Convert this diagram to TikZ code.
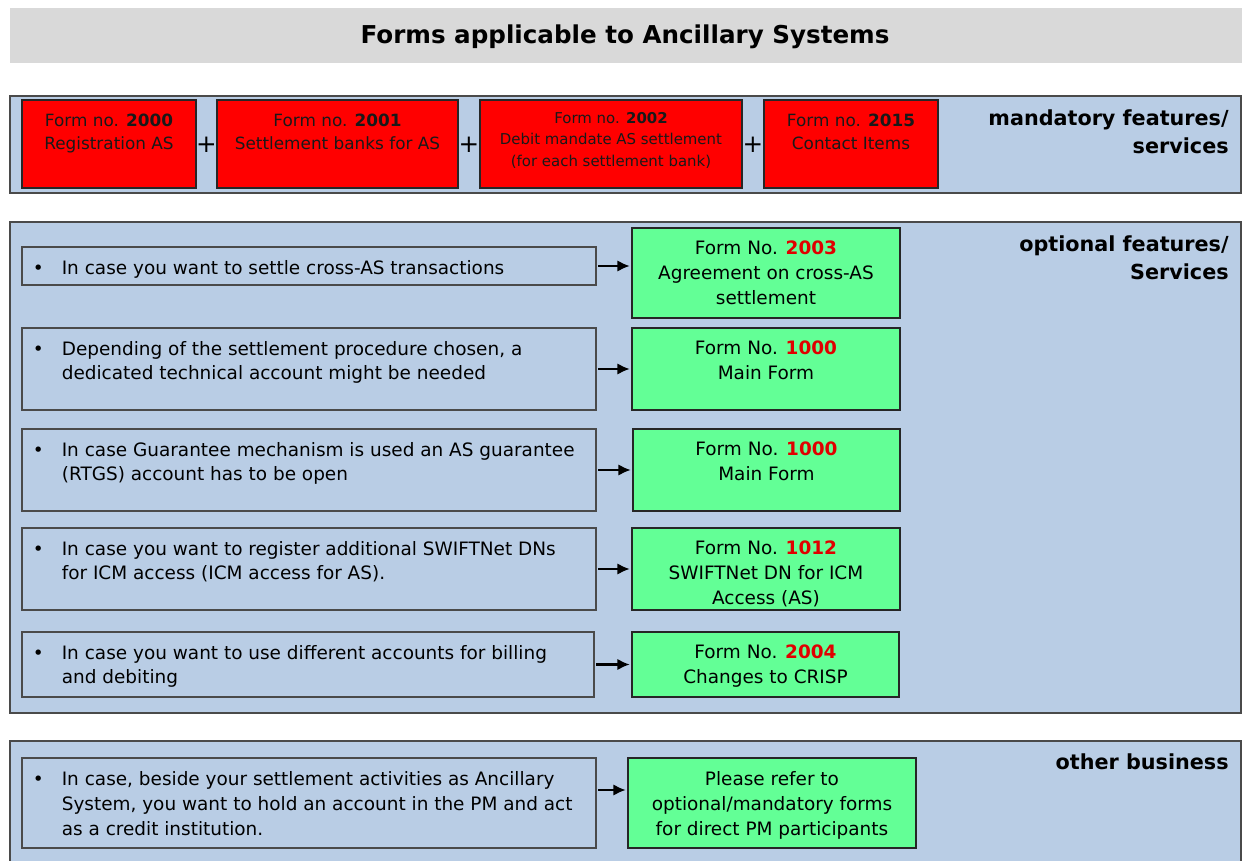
\documentclass[tikz,border=0pt]{standalone}
\usepackage{fontspec}
\setmainfont{DejaVu Sans}
\usepackage{xcolor}
\usepackage{tikz}
\usetikzlibrary{shapes,arrows,arrows.meta,positioning,fit,backgrounds}

\definecolor{panelblue}{HTML}{B9CDE5}
\definecolor{formred}{HTML}{FF0000}
\definecolor{formgreen}{HTML}{63FF96}
\definecolor{titlegray}{HTML}{D9D9D9}
\definecolor{edgegray}{HTML}{4A4A4A}
\definecolor{numred}{HTML}{E00000}

\newcommand{\formnum}[1]{\textbf{\color{numred}#1}}
\newcommand{\itemmark}{\makebox[0.58cm][l]{\textbullet}}
\newcommand{\itemskip}{\hspace*{0.58cm}}

\tikzset{
  titlebar/.style={fill=titlegray, inner sep=0pt},
  titletext/.style={inner sep=0pt, font=\fontsize{14}{17}\selectfont\bfseries},
  panel/.style={draw=edgegray, fill=panelblue, line width=1pt, inner sep=0pt},
  redform/.style={draw=black!85, fill=formred, line width=0.6pt, inner sep=0pt},
  greenform/.style={draw=black!85, fill=formgreen, line width=0.6pt, inner sep=0pt},
  casebox/.style={draw=edgegray, fill=panelblue, line width=0.6pt, inner sep=0pt},
  redtext/.style={align=center, inner sep=0pt, text=black!90, font=\fontsize{9.6}{13}\selectfont},
  formtext/.style={align=center, inner sep=0pt, font=\fontsize{10.5}{14.2}\selectfont},
  casetext/.style={align=left, inner sep=0pt, font=\fontsize{10.5}{14.2}\selectfont},
  heading/.style={align=right, anchor=north east, inner sep=0pt, font=\fontsize{11.8}{16.2}\selectfont\bfseries},
  plus/.style={inner sep=0pt, font=\fontsize{14}{14}\selectfont},
  arr/.style={-{Latex[length=7pt,width=6.5pt]}, line width=1.2pt, shorten <=1pt, shorten >=1pt}
}

\begin{document}
\begin{tikzpicture}[x=0.02cm,y=-0.02cm]
        \useasboundingbox (0,0) rectangle (1242,861);

        % Title
        \node[titlebar, fit={(10,8) (1242,63)}] (title) {};
        \node[titletext] (titlet) at (625,37) {Forms applicable to Ancillary Systems};

        % Mandatory features
        \node[panel, fit={(10,96) (1241,193)}] (mandatory) {};
        \node[redform, fit={(22,100) (196,188)}] (f2000) {};
        \node[redform, fit={(217,100) (458,188)}] (f2001) {};
        \node[redform, fit={(480,100) (742,188)}] (f2002) {};
        \node[redform, fit={(764,100) (938,188)}] (f2015) {};
        \node[redtext, below=8pt of f2000.north] (f2000t) {Form no. \textbf{2000}\\Registration AS};
        \node[redtext, below=8pt of f2001.north] (f2001t) {Form no. \textbf{2001}\\Settlement banks for AS};
        \node[redtext, font=\fontsize{8.5}{12.2}\selectfont, below=7pt of f2002.north] (f2002t) {Form no. \textbf{2002}\\Debit mandate AS settlement\\(for each settlement bank)};
        \node[redtext, below=8pt of f2015.north] (f2015t) {Form no. \textbf{2015}\\Contact Items};
        \node[plus] (plus1) at (206.5,145) {+};
        \node[plus] (plus2) at (469,145) {+};
        \node[plus] (plus3) at (753,145) {+};
        \node[heading] (mandhead) at (1229,109) {mandatory features/\\services};

        % Optional features
        \node[panel, fit={(10,222) (1241,713)}] (optional) {};
        \node[heading] (opthead) at (1229,235) {optional features/\\Services};

        \node[casebox, fit={(22,247) (596,285)}] (c1) {};
        \node[casebox, fit={(22,328) (596,410)}] (c2) {};
        \node[casebox, fit={(22,429) (596,511)}] (c3) {};
        \node[casebox, fit={(22,528) (596,610)}] (c4) {};
        \node[casebox, fit={(22,632) (594,697)}] (c5) {};

        \node[greenform, fit={(632,228) (900,318)}] (g1) {};
        \node[greenform, fit={(632,328) (900,410)}] (g2) {};
        \node[greenform, fit={(633,429) (900,511)}] (g3) {};
        \node[greenform, fit={(632,528) (900,610)}] (g4) {};
        \node[greenform, fit={(632,632) (899,697)}] (g5) {};

        \node[casetext, below right=7.5pt and 0.22cm of c1.north west] (c1t) {\itemmark In case you want to settle cross-AS transactions};
        \node[casetext, below right=7.5pt and 0.22cm of c2.north west] (c2t) {\itemmark Depending of the settlement procedure chosen, a\\\itemskip dedicated technical account might be needed};
        \node[casetext, below right=7.5pt and 0.22cm of c3.north west] (c3t) {\itemmark In case Guarantee mechanism is used an AS guarantee\\\itemskip (RTGS) account has to be open};
        \node[casetext, below right=7.5pt and 0.22cm of c4.north west] (c4t) {\itemmark In case you want to register additional SWIFTNet DNs\\\itemskip for ICM access (ICM access for AS).};
        \node[casetext, below right=7.5pt and 0.22cm of c5.north west] (c5t) {\itemmark In case you want to use different accounts for billing\\\itemskip and debiting};

        \node[formtext, below=7.5pt of g1.north] (g1t) {Form No. \formnum{2003}\\Agreement on cross-AS\\settlement};
        \node[formtext, below=7.5pt of g2.north] (g2t) {Form No. \formnum{1000}\\Main Form};
        \node[formtext, below=7.5pt of g3.north] (g3t) {Form No. \formnum{1000}\\Main Form};
        \node[formtext, below=7.5pt of g4.north] (g4t) {Form No. \formnum{1012}\\SWIFTNet DN for ICM\\Access (AS)};
        \node[formtext, below=7.5pt of g5.north] (g5t) {Form No. \formnum{2004}\\Changes to CRISP};

        \foreach \i in {1,...,5}
          \draw[arr] (c\i.east) -- (c\i.east -| g\i.west);

        % Other business
        \node[panel, fit={(10,741) (1241,880)}] (other) {};
        \node[heading] (otherhead) at (1229,753) {other business};
        \node[casebox, fit={(22,758) (596,848)}] (o1) {};
        \node[greenform, fit={(628,758) (916,848)}] (og) {};
        \node[casetext, below right=8pt and 0.22cm of o1.north west] (o1t) {\itemmark In case, beside your settlement activities as Ancillary\\\itemskip System, you want to hold an account in the PM and act\\\itemskip as a credit institution.};
        \node[formtext, below=8pt of og.north] (ogt) {Please refer to\\optional/mandatory forms\\for direct PM participants};
        \coordinate (oa) at ([yshift=0.26cm]o1.east);
        \draw[arr] (oa) -- (oa -| og.west);
\end{tikzpicture}
\end{document}
